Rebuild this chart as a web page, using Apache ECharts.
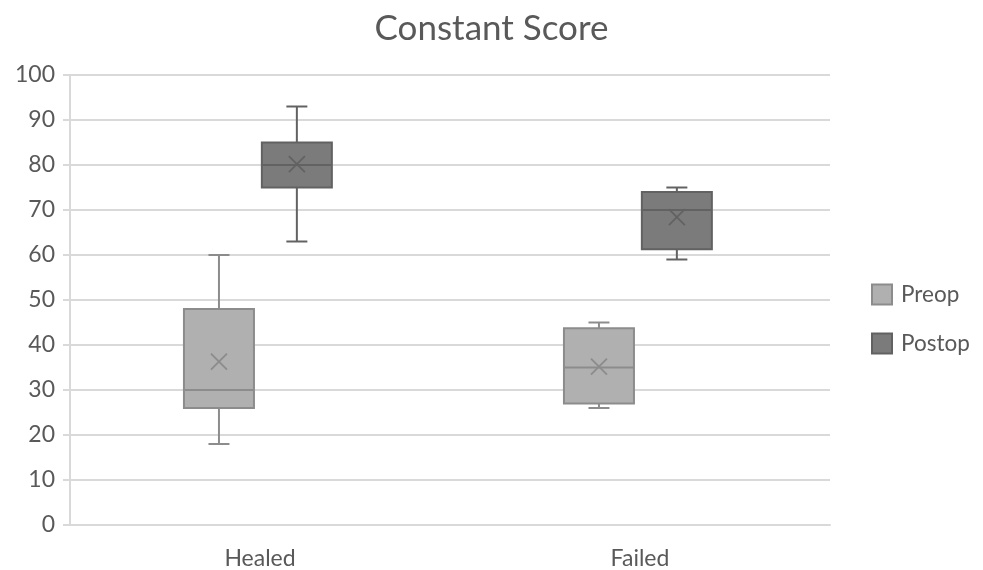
<!DOCTYPE html>
<html><head><meta charset="utf-8">
<script src="https://cdn.jsdelivr.net/npm/echarts@6/dist/echarts.min.js"></script>
<style>html,body{margin:0;padding:0;background:#fff}#c{width:983px;height:570px}</style>
</head><body><div id="c"></div>
<script>
var categories = ['Healed', 'Failed'];
var seriesNames = ['Preop', 'Postop'];
// [min, Q1, median, Q3, max, mean]
var preopValues = [[18, 26, 30, 48, 60, 36.3], [26, 27, 35, 43.7, 45, 35.2]];
var postopValues = [[63, 75, 80, 85, 93, 80.2], [59, 61.3, 70, 74, 75, 68.4]];
var yTicks = [0, 10, 20, 30, 40, 50, 60, 70, 80, 90, 100];

var FONT = 'Lato';
var styles = [
  {frac: -0.108, fill: '#b0b0b0', stroke: '#8c8c8c'},
  {frac: 0.097, fill: '#7b7b7b', stroke: '#626262'}
];

function makeRender(st) {
  return function (params, api) {
    var ci = api.value(0);
    var bw = api.size([1, 0])[0];
    var cx = api.coord([ci, 0])[0] + bw * st.frac;
    function y(i) { return api.coord([ci, api.value(i)])[1]; }
    var w = 70, cap = 21, m = 8;
    var ls = {stroke: st.stroke, lineWidth: 2, fill: null};
    var yMin = y(1), yQ1 = y(2), yMed = y(3), yQ3 = y(4), yMax = y(5), yMean = y(6);
    return {type: 'group', children: [
      {type: 'line', shape: {x1: cx, y1: yMax, x2: cx, y2: yQ3}, style: ls},
      {type: 'line', shape: {x1: cx, y1: yQ1, x2: cx, y2: yMin}, style: ls},
      {type: 'line', shape: {x1: cx - cap / 2, y1: yMax, x2: cx + cap / 2, y2: yMax}, style: ls},
      {type: 'line', shape: {x1: cx - cap / 2, y1: yMin, x2: cx + cap / 2, y2: yMin}, style: ls},
      {type: 'rect', shape: {x: cx - w / 2, y: yQ3, width: w, height: yQ1 - yQ3}, style: {fill: st.fill, stroke: st.stroke, lineWidth: 2}},
      {type: 'line', shape: {x1: cx - w / 2, y1: yMed, x2: cx + w / 2, y2: yMed}, style: ls},
      {type: 'line', shape: {x1: cx - m, y1: yMean - m, x2: cx + m, y2: yMean + m}, style: {stroke: st.stroke, lineWidth: 1.8}},
      {type: 'line', shape: {x1: cx - m, y1: yMean + m, x2: cx + m, y2: yMean - m}, style: {stroke: st.stroke, lineWidth: 1.8}}
    ]};
  };
}

function toData(vals) {
  return vals.map(function (v, i) { return [i].concat(v); });
}

var chart = echarts.init(document.getElementById('c'));
chart.setOption({
  animation: false,
  title: {text: 'Constant Score', left: 'center', top: 6,
    textStyle: {fontFamily: FONT, fontSize: 35, fontWeight: 'normal', color: '#595959'}},
  legend: {
    orient: 'vertical', left: 866, top: 278, itemWidth: 20, itemHeight: 20, itemGap: 26,
    textStyle: {fontFamily: FONT, fontSize: 22.5, color: '#595959', padding: [0, 0, 0, 4]},
    data: [
      {name: seriesNames[0], icon: 'rect', itemStyle: {color: styles[0].fill, borderColor: styles[0].stroke, borderWidth: 2}},
      {name: seriesNames[1], icon: 'rect', itemStyle: {color: styles[1].fill, borderColor: styles[1].stroke, borderWidth: 2}}
    ]
  },
  grid: {left: 70, right: 153, top: 75, bottom: 44, containLabel: false},
  xAxis: {
    type: 'category', data: categories,
    axisLine: {lineStyle: {color: '#d9d9d9', width: 2}},
    axisTick: {show: false},
    axisLabel: {fontFamily: FONT, fontSize: 23, color: '#595959', margin: 22},
    splitLine: {show: false}
  },
  yAxis: {
    type: 'value', min: yTicks[0], max: yTicks[yTicks.length - 1], interval: 10,
    axisLine: {show: true, lineStyle: {color: '#d9d9d9', width: 2}},
    axisTick: {show: true, length: 7, lineStyle: {color: '#d9d9d9', width: 2}},
    axisLabel: {fontFamily: FONT, fontSize: 23, color: '#595959', margin: 15},
    splitLine: {lineStyle: {color: '#d9d9d9', width: 2}}
  },
  series: [
    {name: seriesNames[0], type: 'custom', renderItem: makeRender(styles[0]),
      itemStyle: {color: styles[0].fill, borderColor: styles[0].stroke},
      encode: {x: 0, y: [1, 2, 3, 4, 5, 6]}, data: toData(preopValues)},
    {name: seriesNames[1], type: 'custom', renderItem: makeRender(styles[1]),
      itemStyle: {color: styles[1].fill, borderColor: styles[1].stroke},
      encode: {x: 0, y: [1, 2, 3, 4, 5, 6]}, data: toData(postopValues)}
  ]
});
</script></body></html>
